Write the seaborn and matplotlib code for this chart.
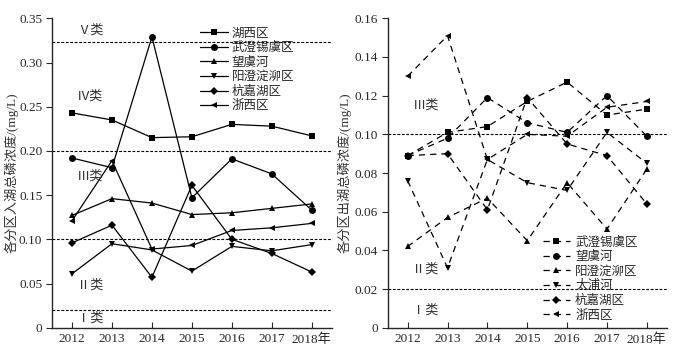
import pandas as pd
import matplotlib.pyplot as plt
import seaborn as sns

years = [2012, 2013, 2014, 2015, 2016, 2017, 2018]
year_labels = ['2012', '2013', '2014', '2015', '2016', '2017', '2018年']

# inflow TP (left panel)
in_names = ['湖西区', '武澄锡虞区', '望虞河', '阳澄淀泖区', '杭嘉湖区', '浙西区']
in_huxi = [0.243, 0.235, 0.215, 0.216, 0.230, 0.228, 0.217]
in_wucheng = [0.192, 0.181, 0.329, 0.147, 0.191, 0.174, 0.133]
in_wangyu = [0.127, 0.146, 0.141, 0.128, 0.130, 0.135, 0.140]
in_yangcheng = [0.061, 0.095, 0.088, 0.064, 0.092, 0.087, 0.094]
in_hangjia = [0.096, 0.116, 0.057, 0.161, 0.100, 0.084, 0.063]
in_zhexi = [0.121, 0.189, 0.089, 0.093, 0.110, 0.113, 0.118]

# outflow TP (right panel)
out_names = ['武澄锡虞区', '望虞河', '阳澄淀泖区', '太浦河', '杭嘉湖区', '浙西区']
out_wucheng = [0.089, 0.101, 0.104, 0.117, 0.127, 0.110, 0.113]
out_wangyu = [0.089, 0.098, 0.119, 0.106, 0.101, 0.120, 0.099]
out_yangcheng = [0.042, 0.057, 0.067, 0.045, 0.075, 0.051, 0.082]
out_taipu = [0.076, 0.031, 0.087, 0.075, 0.071, 0.101, 0.085]
out_hangjia = [0.089, 0.090, 0.061, 0.119, 0.095, 0.089, 0.064]
out_zhexi = [0.130, 0.151, 0.087, 0.100, 0.099, 0.114, 0.117]

in_lines = [0.02, 0.10, 0.20, 0.323]
in_class = [('Ⅴ类', 0.336), ('Ⅳ类', 0.261), ('Ⅲ类', 0.171), ('Ⅱ类', 0.048), ('Ⅰ类', 0.011)]
out_lines = [0.02, 0.10]
out_class = [('Ⅲ类', 0.115), ('Ⅱ类', 0.030), ('Ⅰ类', 0.009)]

markers = ['s', 'o', '^', 'v', 'D', '<']

sns.set_style('ticks')
plt.rcParams['font.family'] = ['Liberation Serif', 'Noto Sans CJK SC']
plt.rcParams['axes.linewidth'] = 1.0

fig = plt.figure(figsize=(6.79, 3.52), dpi=100)
ax1 = fig.add_axes([0.0766, 0.069, 0.412, 0.879])
ax2 = fig.add_axes([0.571, 0.069, 0.411, 0.879])


def draw(ax, names, series, dashed):
    for name, vals, m in zip(names, series, markers):
        ms = 4.5 if m == 'D' else 5
        sns.lineplot(x=years, y=vals, ax=ax, color='black', marker=m,
                     markersize=ms, markeredgewidth=0, linewidth=0.9,
                     linestyle=(0, (5, 4)) if dashed else '-', label=name)


draw(ax1, in_names, [in_huxi, in_wucheng, in_wangyu, in_yangcheng, in_hangjia, in_zhexi], False)
draw(ax2, out_names, [out_wucheng, out_wangyu, out_yangcheng, out_taipu, out_hangjia, out_zhexi], True)

for ax, lines, classes, ymax, yticks, ylabel, labx in [
        (ax1, in_lines, in_class, 0.35, [0, 0.05, 0.10, 0.15, 0.20, 0.25, 0.30, 0.35], '各分区入湖总磷浓度/(mg/L)', -0.12),
        (ax2, out_lines, out_class, 0.16, [0, 0.02, 0.04, 0.06, 0.08, 0.10, 0.12, 0.14, 0.16], '各分区出湖总磷浓度/(mg/L)', -0.128)]:
    for y in lines:
        ax.axhline(y, color='black', linestyle=(0, (2.5, 1.5)), linewidth=0.8, zorder=1)
    for txt, y in classes:
        ax.text(2012.12, y, txt, ha='left', va='center', fontsize=9.5, color='#333333')
    ax.set_xlim(2011.5, 2018.5)
    ax.set_ylim(0, ymax)
    ax.set_xticks(years)
    ax.set_xticklabels(year_labels, fontsize=9.5)
    ax.set_yticks(yticks)
    ax.set_yticklabels(['0'] + [f'{v:.2f}' for v in yticks[1:]], fontsize=9.5)
    ax.tick_params(axis='x', direction='in', length=4, pad=4)
    ax.tick_params(axis='y', direction='out', length=4, pad=3)
    ax.set_ylabel(ylabel, fontsize=9.5, color='#333333')
    ax.yaxis.set_label_coords(labx, 0.5)
    ax.set_xlabel('')
    sns.despine(ax=ax)

ax1.legend(loc='upper left', bbox_to_anchor=(0.53, 0.97), frameon=False, fontsize=9,
           handlelength=2.2, handletextpad=0.3, labelspacing=0.2, borderpad=0, borderaxespad=0)
ax2.legend(loc='upper left', bbox_to_anchor=(0.555, 0.295), frameon=False, fontsize=9,
           handlelength=2.2, handletextpad=0.4, labelspacing=0.2, borderpad=0, borderaxespad=0)

fig.savefig('out.png', dpi=100)
